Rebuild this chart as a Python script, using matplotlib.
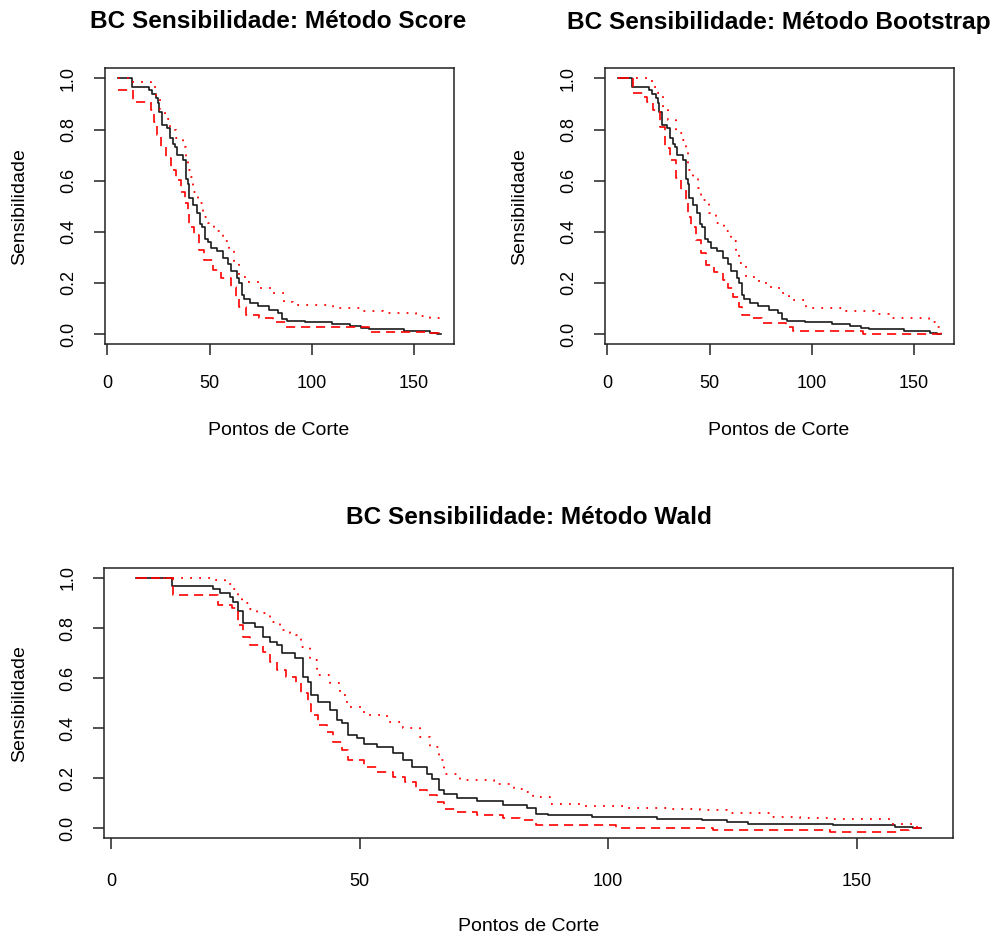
import matplotlib

matplotlib.use("Agg")
import matplotlib.pyplot as plt

plt.rcParams["font.family"] = ["Liberation Sans", "DejaVu Sans"]

OUTPUT = "out.png"

# Sensibilidade estimada (curva preta, igual nos tres paineis)
SENS_X = [5, 12.2, 20.5, 22, 24, 24.6, 25.5, 26.6, 29, 30.6, 32, 33.3, 34.3, 37,
          38.7, 39.7, 40.2, 41.7, 44, 45.4, 46.4, 47.7, 49.4, 50.8, 53.5, 56.8,
          58.8, 60.5, 63.5, 64.5, 65.9, 66.9, 69.6, 73.6, 78.9, 83.6, 85.6, 88,
          96.7, 109.8, 118.9, 123.9, 128.2, 145.3, 157.7, 161.4, 163]
SENS_Y = [1.0, 0.968, 0.955, 0.939, 0.925, 0.905, 0.87, 0.819, 0.805, 0.765,
          0.745, 0.732, 0.699, 0.679, 0.605, 0.585, 0.532, 0.505, 0.472, 0.432,
          0.419, 0.372, 0.359, 0.335, 0.323, 0.299, 0.272, 0.245, 0.219, 0.199,
          0.152, 0.136, 0.123, 0.109, 0.095, 0.083, 0.059, 0.052, 0.045, 0.039,
          0.032, 0.025, 0.019, 0.012, 0.005, 0.0, 0.0]

# Metodo Score
SCORE_SUP_X = [5, 12.4, 21.5, 24, 25.6, 28.1, 30.5, 33.8, 37, 38.5, 39.3, 40.9,
               42, 44.5, 46.6, 49.1, 52.3, 56.4, 59.6, 62.1, 64.5, 67.8, 74.3,
               80, 86.5, 90.6, 110.2, 124.9, 134.7, 151, 158, 162.5]
SCORE_SUP_Y = [1.0, 0.987, 0.967, 0.934, 0.876, 0.843, 0.798, 0.765, 0.733,
               0.69, 0.642, 0.616, 0.557, 0.511, 0.459, 0.433, 0.401, 0.362,
               0.329, 0.283, 0.224, 0.205, 0.179, 0.159, 0.126, 0.114, 0.1,
               0.091, 0.081, 0.07, 0.061, 0.042]
SCORE_INF_X = [5.4, 12.4, 21.5, 23, 24.5, 26.4, 28.9, 31.3, 33.8, 36.2, 37.8,
               39.4, 40.2, 42.6, 45, 47.4, 51.5, 55.5, 60.4, 62.9, 64.5, 67.8,
               74.3, 80.8, 87.3, 128, 157.5, 162]
SCORE_INF_Y = [0.956, 0.907, 0.876, 0.831, 0.779, 0.733, 0.688, 0.642, 0.603,
               0.557, 0.511, 0.472, 0.42, 0.387, 0.329, 0.29, 0.25, 0.218,
               0.185, 0.146, 0.107, 0.074, 0.061, 0.048, 0.029, 0.009, 0.005, 0.0]

# Metodo Bootstrap
BOOT_SUP_X = [5, 22, 24.8, 27.2, 29.7, 33.8, 37, 38.5, 39.3, 41.8, 44.2, 45.8,
              49.9, 53.1, 57.2, 60.4, 62.9, 64.5, 67.8, 74.3, 80, 84.9, 89,
              97.1, 116.7, 130.5, 137.9, 157.5, 161, 163]
BOOT_SUP_Y = [1.0, 0.967, 0.941, 0.876, 0.837, 0.785, 0.759, 0.72, 0.642,
              0.616, 0.57, 0.524, 0.472, 0.433, 0.401, 0.362, 0.322, 0.277,
              0.224, 0.198, 0.179, 0.159, 0.133, 0.1, 0.091, 0.078, 0.061,
              0.048, 0.029, 0.0]
BOOT_INF_X = [5, 12.4, 17.6, 19.5, 22.4, 25.6, 28.1, 30.5, 33.8, 36.2, 38.5,
              39.4, 41, 43.4, 45.8, 48.3, 52.3, 56.4, 58.8, 61.3, 64.5, 66.1,
              70.9, 75.8, 87.3, 90.6, 125, 163]
BOOT_INF_Y = [1.0, 0.941, 0.928, 0.907, 0.876, 0.81, 0.726, 0.681, 0.609,
              0.563, 0.511, 0.459, 0.42, 0.368, 0.316, 0.27, 0.244, 0.211,
              0.179, 0.146, 0.107, 0.074, 0.061, 0.042, 0.029, 0.013, 0.0, 0.0]

# Metodo Wald
WALD_SUP_X = [5, 21, 23, 24.6, 25.5, 26.3, 28, 29.3, 32, 34, 36, 37.3, 38.3,
              40, 41.4, 44, 46, 47.4, 50.8, 55.5, 58.8, 62.2, 64.2, 65.9, 66.9,
              70.3, 77, 81, 83.5, 85, 88.3, 94.9, 103.8, 112.5, 118.6, 123.9,
              132.6, 138.6, 145.3, 156.7, 161.4, 163]
WALD_SUP_Y = [1.0, 0.99, 0.975, 0.955, 0.92, 0.899, 0.875, 0.859, 0.825,
              0.792, 0.78, 0.772, 0.725, 0.672, 0.612, 0.579, 0.532, 0.485,
              0.452, 0.425, 0.399, 0.365, 0.325, 0.272, 0.219, 0.192, 0.176,
              0.159, 0.145, 0.125, 0.099, 0.089, 0.083, 0.079, 0.072, 0.063,
              0.045, 0.041, 0.036, 0.019, 0.005, 0.0]
WALD_INF_X = [5, 12.5, 21.5, 24.3, 25.6, 26.6, 28, 30.6, 32, 33.3, 35.3, 37.3,
              38.3, 39.7, 40.3, 41.7, 43.4, 44.7, 46.4, 47.7, 50.8, 53.5, 56.8,
              59.1, 61.4, 63.5, 65.5, 66.9, 69.6, 73.6, 78.9, 82.2, 85.5, 101.7,
              121.2, 144.6, 158.4, 160.5, 163]
WALD_INF_Y = [1.0, 0.932, 0.892, 0.879, 0.812, 0.765, 0.732, 0.705, 0.665,
              0.632, 0.605, 0.579, 0.539, 0.496, 0.452, 0.412, 0.385, 0.345,
              0.312, 0.272, 0.245, 0.225, 0.205, 0.185, 0.152, 0.132, 0.105,
              0.079, 0.065, 0.052, 0.041, 0.035, 0.015, 0.001, -0.005, -0.015,
              -0.008, 0.0, 0.0]

X_TICKS = [0, 50, 100, 150]
Y_TICKS = [0.0, 0.2, 0.4, 0.6, 0.8, 1.0]
Y_TICK_LABELS = ["0.0", "0.2", "0.4", "0.6", "0.8", "1.0"]

DASHED = (0, (5.5, 3.5))
DOTTED = (0, (1, 4))


def draw_panel(ax, sup, inf, ylabel_x, xlabel_y, xpad):
    ax.plot(SENS_X, SENS_Y, drawstyle="steps-post", color="#1a1a1a", linewidth=1.2)
    ax.plot(inf[0], inf[1], drawstyle="steps-post", color="red", linewidth=1.2, linestyle=DASHED)
    ax.plot(sup[0], sup[1], drawstyle="steps-post", color="red", linewidth=1.3, linestyle=DOTTED)

    ax.set_xlim(-1.32, 169.32)
    ax.set_ylim(-0.04, 1.04)
    ax.set_xticks(X_TICKS)
    ax.set_yticks(Y_TICKS)
    ax.set_yticklabels(Y_TICK_LABELS, rotation=90, va="center")
    ax.tick_params(direction="out", length=8, width=1.1, labelsize=13, color="#222222")
    ax.tick_params(axis="x", pad=xpad)
    ax.tick_params(axis="y", pad=12)
    for spine in ax.spines.values():
        spine.set_linewidth(1.1)
        spine.set_color("#222222")

    ax.set_xlabel("Pontos de Corte", fontsize=14, va="center")
    ax.set_ylabel("Sensibilidade", fontsize=14, va="center")
    ax.xaxis.set_label_coords(0.5, xlabel_y)
    ax.yaxis.set_label_coords(ylabel_x, 0.5)


def main():
    fig = plt.figure(figsize=(9.97, 9.4), dpi=100)

    ax_score = fig.add_axes([0.1049, 0.6338, 0.3500, 0.2937])
    ax_boot = fig.add_axes([0.6064, 0.6338, 0.3500, 0.2937])
    ax_wald = fig.add_axes([0.1048, 0.1081, 0.8506, 0.2877])

    draw_panel(ax_score, (SCORE_SUP_X, SCORE_SUP_Y), (SCORE_INF_X, SCORE_INF_Y), -0.2425, -0.3116, 14)
    draw_panel(ax_boot, (BOOT_SUP_X, BOOT_SUP_Y), (BOOT_INF_X, BOOT_INF_Y), -0.2425, -0.3116, 14)
    draw_panel(ax_wald, (WALD_SUP_X, WALD_SUP_Y), (WALD_INF_X, WALD_INF_Y), -0.0996, -0.326, 17)

    title_kw = dict(fontsize=17.6, fontweight="bold", ha="center", va="center")
    fig.text(278.5 / 997, 1 - 22 / 940, "BC Sensibilidade: Método Score", **title_kw)
    fig.text(778.5 / 997, 1 - 22 / 940, "BC Sensibilidade: Método Bootstrap", **title_kw)
    fig.text(528.5 / 997, 1 - 518 / 940, "BC Sensibilidade: Método Wald", **title_kw)

    fig.savefig(OUTPUT, dpi=100, facecolor="white")
    plt.close(fig)


if __name__ == "__main__":
    main()
